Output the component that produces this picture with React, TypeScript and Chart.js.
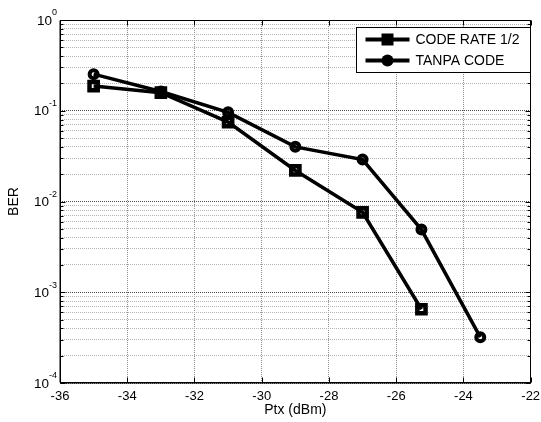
import React, { useEffect, useRef } from 'react';
import { Chart, registerables } from 'chart.js';

Chart.register(...registerables);

// ---- data ----
const codeRateLabel = 'CODE RATE 1/2';
const tanpaLabel = 'TANPA CODE';
const ptxCode = [-35, -33, -31, -29, -27, -25.25];
const berCode = [0.187, 0.158, 0.075, 0.022, 0.0076, 0.00065];
const ptxTanpa = [-35, -33, -31, -29, -27, -25.25, -23.5];
const berTanpa = [0.253, 0.163, 0.096, 0.04, 0.029, 0.0049, 0.00032];
const xTicks = [-36, -34, -32, -30, -28, -26, -24, -22];
const yDecades = [-4, -3, -2, -1, 0];
const xTitle = 'Ptx (dBm)';
const yTitle = 'BER';

const FONT = '"Liberation Sans", Arial, Helvetica, sans-serif';

const isDecade = (v: number) => {
  const l = Math.log10(v);
  return Math.abs(l - Math.round(l)) < 1e-6;
};

const frameAndLabels = {
  id: 'frameAndLabels',
  afterDatasetsDraw(chart: any) {
    const { ctx, chartArea: a, scales } = chart;
    const x = scales.x;
    const y = scales.y;
    const L = Math.round(a.left) + 0.5;
    const R = Math.round(a.right) - 0.5;
    const T = Math.round(a.top) + 0.5;
    const B = Math.round(a.bottom) - 0.5;
    ctx.save();
    ctx.strokeStyle = '#000';
    ctx.lineWidth = 1;
    ctx.beginPath();
    for (const v of xTicks) {
      const px = Math.round(x.getPixelForValue(v)) + 0.5;
      ctx.moveTo(px, B);
      ctx.lineTo(px, B - 5);
      ctx.moveTo(px, T);
      ctx.lineTo(px, T + 5);
    }
    for (const t of y.ticks) {
      const py = Math.round(y.getPixelForValue(t.value)) + 0.5;
      const len = isDecade(t.value) ? 5 : 3;
      ctx.moveTo(L, py);
      ctx.lineTo(L + len, py);
      ctx.moveTo(R, py);
      ctx.lineTo(R - len, py);
    }
    ctx.stroke();
    ctx.strokeRect(L, T, R - L, B - T);
    ctx.beginPath();
    ctx.moveTo(L - 0.5, T);
    ctx.lineTo(L - 0.5, B);
    ctx.moveTo(L, B + 0.5);
    ctx.lineTo(R, B + 0.5);
    ctx.stroke();

    // y tick labels 10^n
    ctx.fillStyle = '#000';
    ctx.textBaseline = 'middle';
    for (const e of yDecades) {
      const py = y.getPixelForValue(Math.pow(10, e));
      const expStr = String(e);
      ctx.font = `9px ${FONT}`;
      const ew = ctx.measureText(expStr).width;
      ctx.textAlign = 'right';
      const right = a.left - 3;
      ctx.fillText(expStr, right, py - 7);
      ctx.font = `13.5px ${FONT}`;
      ctx.fillText('10', right - ew, py + 1);
    }
    ctx.restore();
  },
  afterDraw(chart: any) {
    const { ctx, chartArea: a, data } = chart;
    ctx.save();
    const boxR = Math.round(a.right) - 0.5;
    const boxL = boxR - 174;
    const boxT = Math.round(a.top) + 7.5;
    const boxB = boxT + 45;
    ctx.fillStyle = '#fff';
    ctx.fillRect(boxL, boxT, boxR - boxL, boxB - boxT);
    ctx.strokeStyle = '#000';
    ctx.lineWidth = 1;
    ctx.strokeRect(boxL, boxT, boxR - boxL, boxB - boxT);
    const rows = [boxT + 12, boxT + 33];
    data.datasets.forEach((ds: any, i: number) => {
      const cy = rows[i];
      const x0 = boxL + 9;
      const x1 = boxL + 53;
      ctx.strokeStyle = '#000';
      ctx.lineWidth = 4;
      ctx.beginPath();
      ctx.moveTo(x0, cy);
      ctx.lineTo(x1, cy);
      ctx.stroke();
      const cx = (x0 + x1) / 2;
      ctx.fillStyle = '#000';
      if (ds.pointStyle === 'rect') {
        ctx.fillRect(cx - 6, cy - 6, 12, 12);
      } else {
        ctx.beginPath();
        ctx.arc(cx, cy, 6, 0, Math.PI * 2);
        ctx.fill();
      }
      ctx.font = `14px ${FONT}`;
      ctx.textAlign = 'left';
      ctx.textBaseline = 'middle';
      ctx.fillText(ds.label, x1 + 6, cy + 1);
    });
    ctx.restore();
  },
};

export default function App() {
  const ref = useRef<HTMLCanvasElement>(null);
  useEffect(() => {
    if (!ref.current) return;
    const chart = new Chart(ref.current, {
      type: 'line',
      data: {
        datasets: [
          {
            label: codeRateLabel,
            data: ptxCode.map((v, i) => ({ x: v, y: berCode[i] })),
            borderColor: '#000',
            backgroundColor: 'rgba(0,0,0,0)',
            borderWidth: 3.5,
            pointStyle: 'rect',
            pointRadius: 5.8,
            pointBorderWidth: 4.5,
            pointBorderColor: '#000',
            pointBackgroundColor: 'rgba(0,0,0,0)',
            tension: 0,
          },
          {
            label: tanpaLabel,
            data: ptxTanpa.map((v, i) => ({ x: v, y: berTanpa[i] })),
            borderColor: '#000',
            backgroundColor: 'rgba(0,0,0,0)',
            borderWidth: 3.5,
            pointStyle: 'circle',
            pointRadius: 4,
            pointBorderWidth: 4,
            pointBorderColor: '#000',
            pointBackgroundColor: 'rgba(0,0,0,0)',
            tension: 0,
          },
        ],
      },
      options: {
        animation: false,
        responsive: false,
        devicePixelRatio: 1,
        layout: { padding: { top: 20, right: 6, left: 0, bottom: 0 } },
        plugins: { legend: { display: false }, tooltip: { enabled: false } },
        scales: {
          x: {
            type: 'linear',
            min: -36,
            max: -22,
            afterBuildTicks: (s: any) => {
              s.ticks = xTicks.map((v) => ({ value: v }));
            },
            afterFit: (s: any) => {
              s.height = 39;
              s.paddingLeft = 0;
              s.paddingRight = 0;
            },
            ticks: {
              autoSkip: false,
              maxRotation: 0,
              padding: 6,
              color: '#000',
              font: { family: FONT, size: 13 },
              callback: (v: any) => String(v),
            },
            grid: { color: '#8c8c8c', lineWidth: 1, drawTicks: false },
            border: { display: false, dash: [1, 1] },
            title: {
              display: true,
              text: xTitle,
              color: '#000',
              font: { family: FONT, size: 14 },
              padding: { top: 0, bottom: 3.5 },
            },
          },
          y: {
            type: 'logarithmic',
            min: 1e-4,
            max: 1,
            afterBuildTicks: (s: any) => {
              const t: any[] = [];
              for (const e of yDecades) {
                for (let m = 1; m <= 9; m++) {
                  const v = m * Math.pow(10, e);
                  if (v <= 1.0000001) t.push({ value: v });
                }
              }
              s.ticks = t;
            },
            afterFit: (s: any) => {
              s.width = 60;
            },
            ticks: { display: false, autoSkip: false },
            grid: {
              drawTicks: false,
              lineWidth: 1,
              color: (c: any) =>
                c.tick && isDecade(c.tick.value) ? '#4a4a4a' : '#b4b4b4',
            },
            border: { display: false, dash: [1, 1] },
            title: {
              display: true,
              text: yTitle,
              color: '#000',
              font: { family: FONT, size: 14 },
              padding: { top: 6, bottom: 0 },
            },
          },
        },
      },
      plugins: [frameAndLabels],
    });
    return () => chart.destroy();
  }, []);
  return (
    <div style={{ position: 'fixed', left: 0, top: 0, width: 541, height: 422, background: '#fff' }}>
      <canvas ref={ref} width={541} height={422} />
    </div>
  );
}
